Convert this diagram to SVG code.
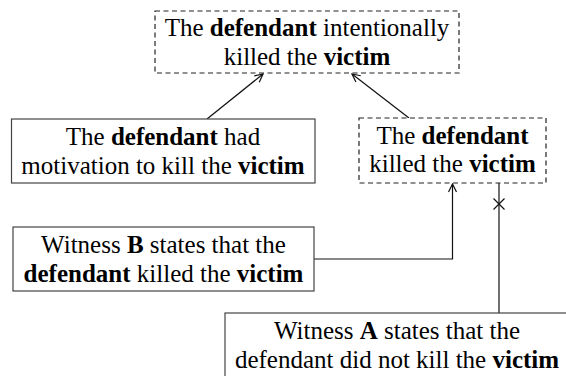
<svg xmlns="http://www.w3.org/2000/svg" width="566" height="376" viewBox="0 0 566 376">
<style>
text{font-family:'Liberation Serif','DejaVu Serif',serif;font-size:25px;fill:#000;text-anchor:middle}
.b{font-weight:bold}
.solid{fill:#fff;stroke:#444;stroke-width:1.2}
.dash{fill:#fff;stroke:#222;stroke-width:1.2;stroke-dasharray:5 3.5}
.c{fill:none;stroke:#111;stroke-width:1.2}
</style>
<defs>
<marker id="ah" viewBox="0 0 10 10" refX="9" refY="5" markerWidth="10" markerHeight="10" markerUnits="userSpaceOnUse" orient="auto">
<path d="M1,1 L9,5 L1,9" fill="none" stroke="#111" stroke-width="1.2"/>
</marker>
</defs>
<g id="connectors">
<path class="c" d="M207,119 L263,74" marker-end="url(#ah)"/>
<path class="c" d="M409,118 L352,74" marker-end="url(#ah)"/>
<path class="c" d="M314,259 L452.5,259 L452.5,184" marker-end="url(#ah)"/>
<path class="c" d="M499,313 L499,183"/>
<path class="c" d="M493.5,198.5 L504.5,209.5 M504.5,198.5 L493.5,209.5"/>
</g>
<g id="n1">
<rect class="dash" x="155" y="11" width="304" height="62"/>
<text x="307" y="36">The <tspan class="b">defendant</tspan> intentionally</text>
<text x="307" y="65">killed the <tspan class="b">victim</tspan></text>
</g>
<g id="n2">
<rect class="solid" x="11.5" y="119" width="303.5" height="64"/>
<text x="163" y="145">The <tspan class="b">defendant</tspan> had</text>
<text x="163" y="173.5">motivation to kill the <tspan class="b">victim</tspan></text>
</g>
<g id="n3">
<rect class="dash" x="359" y="118" width="187" height="65"/>
<text x="452.5" y="143.5">The <tspan class="b">defendant</tspan></text>
<text x="452.5" y="172">killed the <tspan class="b">victim</tspan></text>
</g>
<g id="n4">
<rect class="solid" x="13" y="227" width="301" height="64"/>
<text x="163.5" y="253">Witness <tspan class="b">B</tspan> states that the</text>
<text x="163.5" y="281.5"><tspan class="b">defendant</tspan> killed the <tspan class="b">victim</tspan></text>
</g>
<g id="n5">
<rect class="solid" x="225" y="313" width="345" height="66"/>
<text x="397" y="339">Witness <tspan class="b">A</tspan> states that the</text>
<text x="397" y="367.5">defendant did not kill the <tspan class="b">victim</tspan></text>
</g>
</svg>
